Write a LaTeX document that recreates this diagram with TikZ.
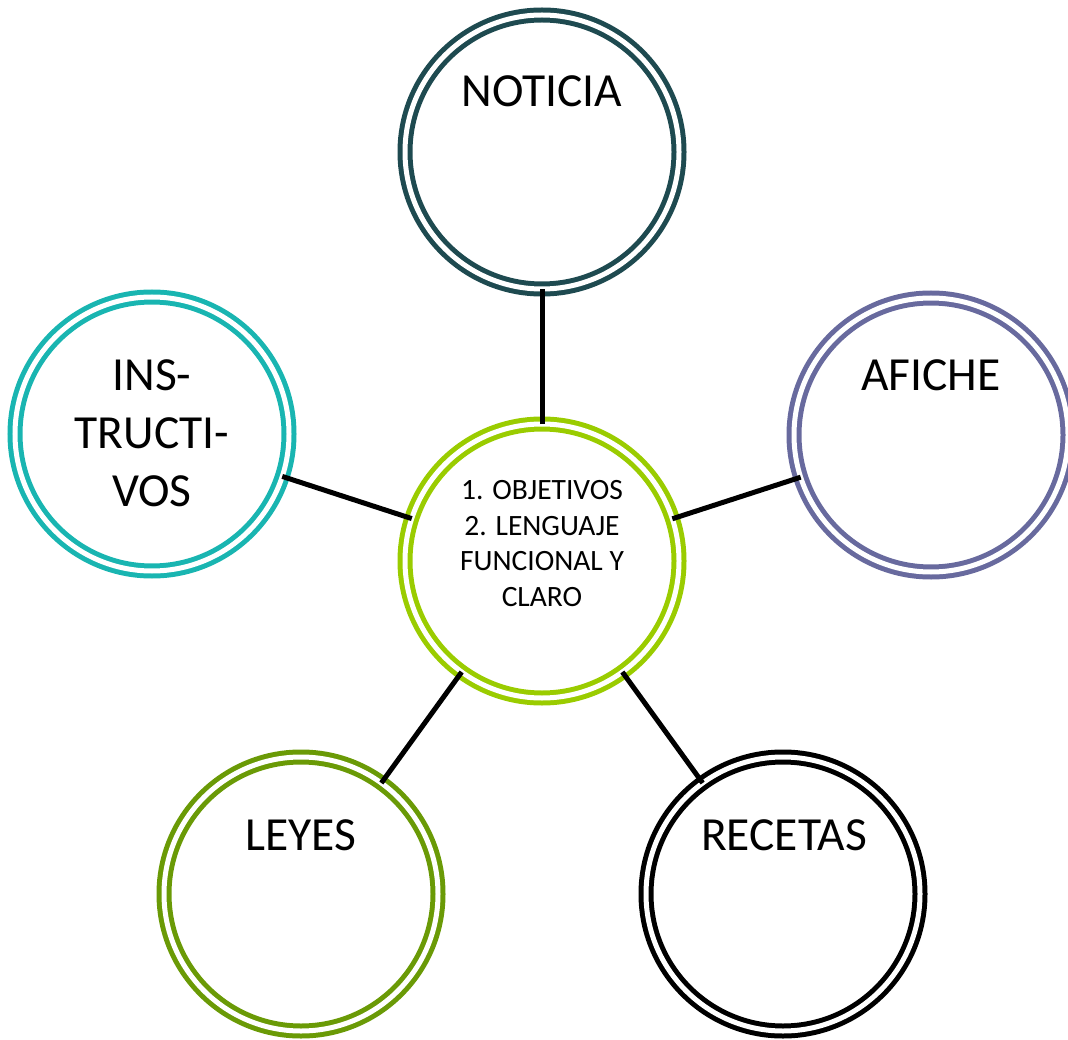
\documentclass[tikz,border=0pt]{standalone}
\usepackage{fontspec}
\setmainfont{Carlito}
\usepackage{xcolor}
\usetikzlibrary{calc}

\definecolor{centrocol}{HTML}{9ACC00}
\definecolor{noticiacol}{HTML}{1E4A50}
\definecolor{instrcol}{HTML}{19B5B1}
\definecolor{afichecol}{HTML}{686A9E}
\definecolor{leyescol}{HTML}{6A9A06}
\definecolor{recetascol}{HTML}{000000}

\begin{document}
\begin{tikzpicture}[x=1pt,y=-1pt,
		ring/.style={circle,draw=#1,line width=5pt,double=white,double distance=5pt,minimum size=274pt,inner sep=0pt,outer sep=0pt},
		titel/.style={font=\fontsize{47.5}{58}\selectfont,align=center,inner sep=0pt},
		kleintitel/.style={font=\fontsize{29.5}{35.7}\selectfont,align=center,inner sep=0pt},
		verb/.style={line width=5pt,black}]
		\useasboundingbox (0,0) rectangle (1068,1040);
		
		%circles
		\node[ring=centrocol] (centro) at (542,561) {};
		\node[ring=noticiacol] (noticia) at (542,152) {};
		\node[ring=instrcol] (instr) at (152,434) {};
		\node[ring=afichecol] (afiche) at (931,435) {};
		\node[ring=leyescol] (leyes) at (301,894) {};
		\node[ring=recetascol] (recetas) at (783,894) {};
		
		%texts
		\node[kleintitel] (centro-t) at (542,543.5) {1. OBJETIVOS\\2. LENGUAJE\\FUNCIONAL Y\\CLARO};
		\node[titel] (noticia-t) at (542,91) {NOTICIA};
		\node[titel] (instr-t) at (152,433) {INS-\\TRUCTI-\\VOS};
		\node[titel] (afiche-t) at (931,375) {AFICHE};
		\node[titel] (leyes-t) at (301,835) {LEYES};
		\node[titel] (recetas-t) at (784,835) {RECETAS};
		
		%connections
		\draw[verb] (centro) -- (noticia);
		\draw[verb] (centro) -- (instr);
		\draw[verb] (centro) -- (afiche);
		\draw[verb] (centro) -- (leyes);
		\draw[verb] (centro) -- (recetas);
		
\end{tikzpicture}
\end{document}
